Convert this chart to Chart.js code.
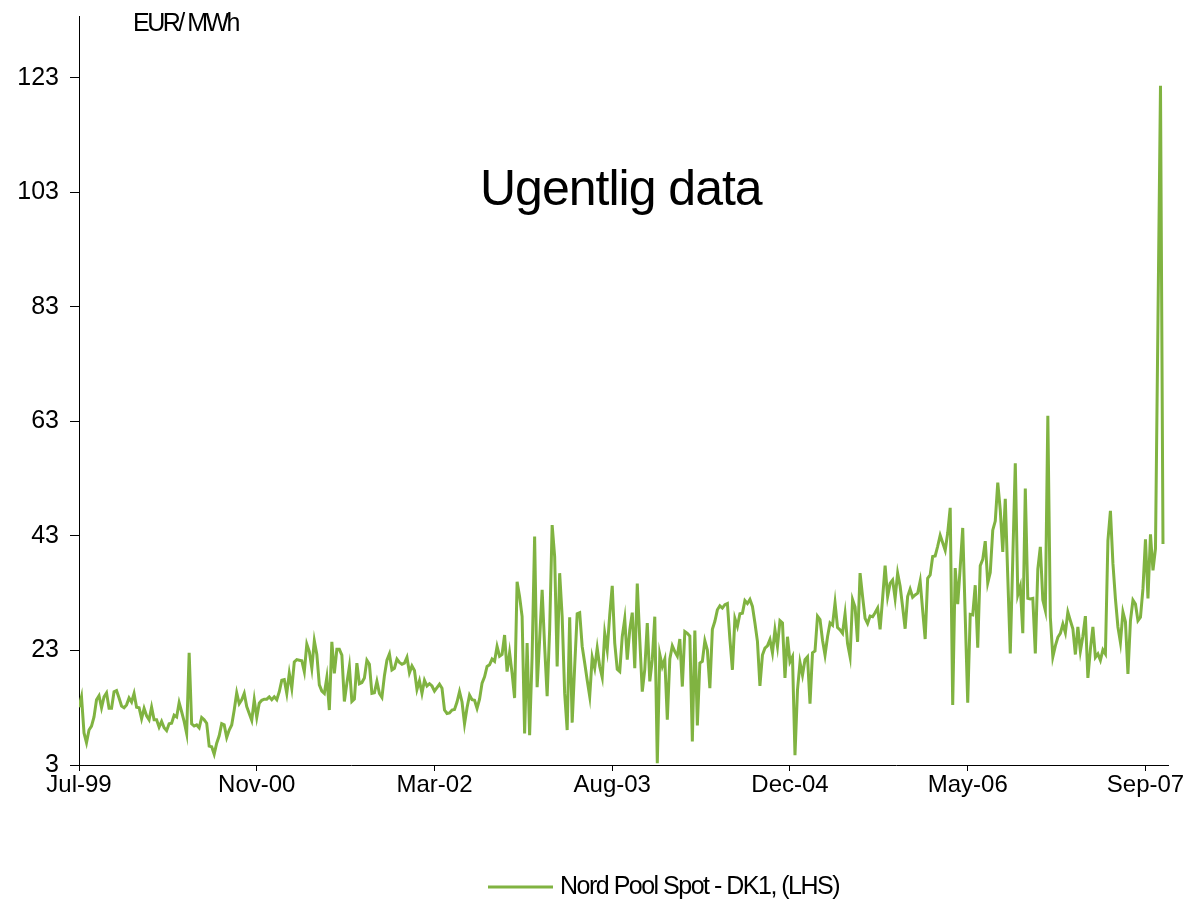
<!DOCTYPE html>
<html lang="da">
<head>
<meta charset="UTF-8">
<title>Nord Pool Spot - DK1</title>
<script src="https://cdn.jsdelivr.net/npm/chart.js"></script>
<style>
    html, body { margin: 0; padding: 0; background: #fff; }
</style>
</head>
<body>
<canvas id="myChart" width="1186" height="906"></canvas>

<script>
    // x-akse: en etiket for hver 71. uge
    const tickLabels = ['Jul-99', 'Nov-00', 'Mar-02', 'Aug-03', 'Dec-04', 'May-06', 'Sep-07'];
    const tickWeeks = [0, 71, 142, 213, 284, 355, 426];
    const yTicks = [3, 23, 43, 63, 83, 103, 123];
    const seriesName = 'Nord Pool Spot - DK1, (LHS)';

    // ugentlig spotpris EUR/MWh
    const prices = [
        13.1, 14.9, 8.6, 6.9, 9.1, 9.8, 11.4, 14.4, 15.1, 13.0,
        14.9, 15.6, 12.9, 12.9, 15.8, 16.0, 14.7, 13.3, 13.0, 13.5,
        14.7, 14.0, 15.5, 13.1, 13.0, 11.1, 12.9, 11.6, 10.9, 13.1,
        10.9, 10.9, 9.6, 10.6, 9.5, 9.0, 10.2, 10.3, 11.7, 11.4,
        13.9, 12.3, 10.6, 8.5, 22.6, 10.2, 9.8, 10.0, 9.5, 11.3,
        10.9, 10.3, 6.3, 6.2, 4.9, 6.8, 8.1, 10.2, 10.0, 7.8,
        9.1, 10.0, 12.6, 15.6, 13.7, 14.4, 15.5, 13.2, 12.0, 10.8,
        14.4, 11.3, 13.8, 14.3, 14.5, 14.5, 14.9, 14.4, 14.9, 14.4,
        15.8, 17.8, 17.9, 15.5, 19.0, 16.4, 21.0, 21.4, 21.3, 21.2,
        19.3, 24.1, 22.8, 19.9, 24.7, 22.3, 17.0, 15.9, 15.5, 18.3,
        12.6, 24.5, 19.0, 23.2, 23.2, 22.2, 14.1, 17.3, 20.2, 14.1,
        14.5, 20.8, 17.2, 17.4, 18.2, 21.3, 20.6, 15.5, 15.6, 17.6,
        15.5, 14.8, 18.6, 21.3, 22.4, 19.6, 19.9, 21.5, 20.9, 20.6,
        20.8, 21.8, 19.1, 20.3, 19.5, 16.2, 17.7, 15.5, 17.8, 16.8,
        17.2, 16.8, 15.9, 16.5, 17.1, 16.4, 12.6, 12.0, 12.1, 12.6,
        12.7, 14.0, 15.8, 14.0, 10.2, 13.0, 15.2, 14.4, 14.3, 12.9,
        14.5, 17.3, 18.4, 20.2, 20.5, 21.5, 21.1, 23.7, 22.0, 22.3,
        25.7, 19.3, 22.6, 19.0, 14.7, 35.0, 32.4, 28.9, 8.5, 24.3,
        8.2, 22.0, 42.9, 16.6, 24.9, 33.6, 23.7, 15.0, 26.6, 44.9,
        39.4, 20.2, 36.5, 28.9, 15.5, 9.1, 28.8, 10.4, 20.2, 29.4,
        29.6, 23.7, 20.8, 17.8, 15.0, 21.8, 19.9, 23.4, 20.2, 18.3,
        26.0, 23.1, 29.2, 34.3, 24.3, 19.7, 19.3, 25.4, 28.5, 21.4,
        26.6, 29.6, 19.9, 34.7, 24.9, 15.8, 19.7, 27.8, 17.6, 21.4,
        28.9, 3.3, 22.3, 20.2, 21.5, 10.9, 21.5, 23.8, 22.8, 22.0,
        25.0, 16.7, 26.3, 26.0, 25.5, 7.1, 26.5, 9.9, 20.8, 21.1,
        24.7, 23.1, 16.4, 26.7, 28.1, 30.1, 30.8, 30.4, 31.0, 31.2,
        25.0, 19.6, 28.6, 27.2, 29.4, 29.5, 31.7, 31.2, 31.9, 30.7,
        27.8, 24.6, 16.8, 22.2, 23.4, 23.8, 24.9, 22.6, 26.6, 23.7,
        28.2, 27.8, 18.2, 25.4, 21.0, 21.9, 4.7, 16.1, 20.9, 18.7,
        21.4, 21.9, 13.7, 22.6, 22.9, 29.0, 28.4, 24.8, 22.2, 25.4,
        27.8, 27.4, 31.3, 27.0, 26.6, 26.0, 29.4, 24.2, 21.9, 31.9,
        30.6, 24.5, 36.5, 32.4, 28.6, 27.7, 29.0, 28.9, 29.6, 30.4,
        26.7, 32.1, 37.8, 32.4, 34.7, 35.3, 32.1, 36.5, 34.2, 30.6,
        26.8, 32.4, 33.7, 32.3, 32.7, 33.0, 35.1, 30.0, 25.0, 35.6,
        36.2, 39.4, 39.5, 41.2, 43.1, 41.8, 40.5, 43.5, 47.9, 13.5,
        37.4, 31.1, 37.5, 44.4, 29.0, 13.9, 29.3, 29.2, 34.4, 23.5,
        37.8, 38.9, 42.1, 34.8, 36.6, 44.0, 45.6, 52.3, 47.5, 40.2,
        49.5, 35.8, 22.5, 39.0, 55.7, 32.7, 34.2, 26.0, 51.3, 32.1,
        32.0, 32.1, 22.5, 37.2, 41.1, 31.8, 30.0, 64.0, 28.8, 21.9,
        23.8, 25.3, 26.0, 27.6, 26.1, 29.7, 28.2, 26.8, 22.3, 27.1,
        22.9, 25.5, 29.0, 18.2, 23.2, 27.1, 21.8, 22.4, 21.3, 23.1,
        22.4, 42.2, 47.4, 38.2, 32.0, 27.1, 24.4, 29.7, 28.0, 18.9,
        28.2, 31.8, 31.1, 28.2, 28.8, 33.8, 42.4, 32.1, 43.3, 37.0,
        40.8, 81.0, 121.6, 41.6
    ];

    const lineColor = '#80b341';
    const fontFamily = '"Liberation Sans", Arial, sans-serif';

    const textPlugin = {
        id: 'textPlugin',
        afterDraw(chart) {
            const {ctx} = chart;
            ctx.save();
            ctx.fillStyle = '#000';
            ctx.textBaseline = 'alphabetic';
            ctx.textAlign = 'left';

            // enhed over y-aksen
            ctx.font = '25px ' + fontFamily;
            ctx.letterSpacing = '-2.5px';
            ctx.fillText('EUR/ MWh', 133, 31);

            // titel
            ctx.font = '50px ' + fontFamily;
            ctx.letterSpacing = '-1px';
            ctx.fillText('Ugentlig data', 480, 205);

            // forklaring
            ctx.strokeStyle = lineColor;
            ctx.lineWidth = 3;
            ctx.beginPath();
            ctx.moveTo(488, 887);
            ctx.lineTo(553, 887);
            ctx.stroke();
            ctx.font = '25px ' + fontFamily;
            ctx.letterSpacing = '-1.5px';
            ctx.textBaseline = 'middle';
            ctx.fillText(seriesName, 560, 887);
            ctx.restore();
        }
    };

    const config = {
        type: 'line',
        data: {
            datasets: [{
                label: seriesName,
                data: prices.map((v, i) => ({x: i, y: v})),
                borderColor: lineColor,
                borderWidth: 3,
                pointRadius: 0,
                tension: 0,
                fill: false
            }]
        },
        options: {
            responsive: false,
            animation: false,
            layout: { padding: { top: 16, right: 18, left: 0, bottom: 0 } },
            plugins: {
                legend: { display: false },
                tooltip: { enabled: false }
            },
            scales: {
                x: {
                    type: 'linear',
                    min: 0,
                    max: 435,
                    afterBuildTicks: s => { s.ticks = tickWeeks.map(v => ({value: v})); },
                    afterFit: s => {
                        s.height = 141;
                        s.paddingLeft = 0;
                        s.paddingRight = 0;
                    },
                    grid: { drawOnChartArea: false, tickLength: 6, tickColor: '#000' },
                    border: { color: '#000', width: 1 },
                    ticks: {
                        autoSkip: false,
                        maxRotation: 0,
                        padding: 0,
                        color: '#000',
                        font: { family: fontFamily, size: 24 },
                        callback: v => tickLabels[tickWeeks.indexOf(v)]
                    }
                },
                y: {
                    min: 3,
                    max: 133.8,
                    afterBuildTicks: s => { s.ticks = yTicks.map(v => ({value: v})); },
                    afterFit: s => {
                        s.width = 79;
                        s.paddingTop = 0;
                        s.paddingBottom = 0;
                    },
                    grid: { drawOnChartArea: false, tickLength: 9, tickColor: '#000' },
                    border: { color: '#000', width: 1 },
                    ticks: {
                        padding: 11,
                        color: '#000',
                        font: { family: fontFamily, size: 25 }
                    }
                }
            }
        },
        plugins: [textPlugin]
    };

    const ctx = document.getElementById('myChart').getContext('2d');
    new Chart(ctx, config);
</script>
</body>
</html>
